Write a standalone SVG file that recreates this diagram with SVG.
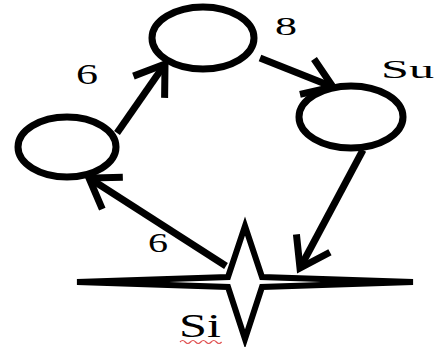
<svg xmlns="http://www.w3.org/2000/svg" width="435" height="347" viewBox="0 0 435 347">
<style>
.node{fill:#fff;stroke:#000;stroke-width:7}
.star{fill:#fff;stroke:#000;stroke-width:6;stroke-linejoin:miter;stroke-miterlimit:20}
.edge{fill:none;stroke:#000;stroke-width:7}
.lbl{font-family:"Liberation Serif","Times New Roman",serif;fill:#000}
</style>
<defs>
<marker id="ah" markerUnits="userSpaceOnUse" orient="auto" viewBox="-40 -30 50 60" refX="0" refY="0" markerWidth="50" markerHeight="60" overflow="visible">
<path d="M-28,-19 L0,0 L-28,19" fill="none" stroke="#000" stroke-width="7" stroke-linejoin="miter"/>
</marker>
</defs>
<rect width="435" height="347" fill="#fff"/>
<g id="connectors">
<path class="edge" d="M117,133 L165,64" marker-end="url(#ah)"/>
<path class="edge" d="M260,58 L333,87" marker-end="url(#ah)"/>
<path class="edge" d="M363,150 L300,268" marker-end="url(#ah)"/>
<path class="edge" d="M226,266 L89,178" marker-end="url(#ah)"/>
</g>
<g id="n_top">
<ellipse class="node" cx="203" cy="38" rx="51" ry="31"/>
</g>
<g id="n_left">
<ellipse class="node" cx="67" cy="147" rx="49" ry="30"/>
</g>
<g id="n_su">
<ellipse class="node" cx="351" cy="117" rx="52" ry="31"/>
<text class="lbl" x="381" y="78" font-size="25" textLength="53" lengthAdjust="spacingAndGlyphs">Su</text>
</g>
<g id="n_si">
<polygon class="star" points="245,226 262,277 413,282 262,287 245,339 228,287 77,282 228,277"/>
<text class="lbl" x="179" y="337" font-size="33" textLength="42" lengthAdjust="spacingAndGlyphs">Si</text>
<path d="M180,342 q2.6,-3 5.2,0 t5.2,0 t5.2,0 t5.2,0 t5.2,0 t5.2,0 t5.2,0 t5.2,0" fill="none" stroke="#e05050" stroke-width="1.2"/>
</g>
<g id="labels">
<text class="lbl" x="76" y="84" font-size="29" textLength="22" lengthAdjust="spacingAndGlyphs">6</text>
<text class="lbl" x="275" y="35" font-size="26" textLength="22" lengthAdjust="spacingAndGlyphs">8</text>
<text class="lbl" x="148" y="252" font-size="28" textLength="20" lengthAdjust="spacingAndGlyphs">6</text>
</g>
</svg>
